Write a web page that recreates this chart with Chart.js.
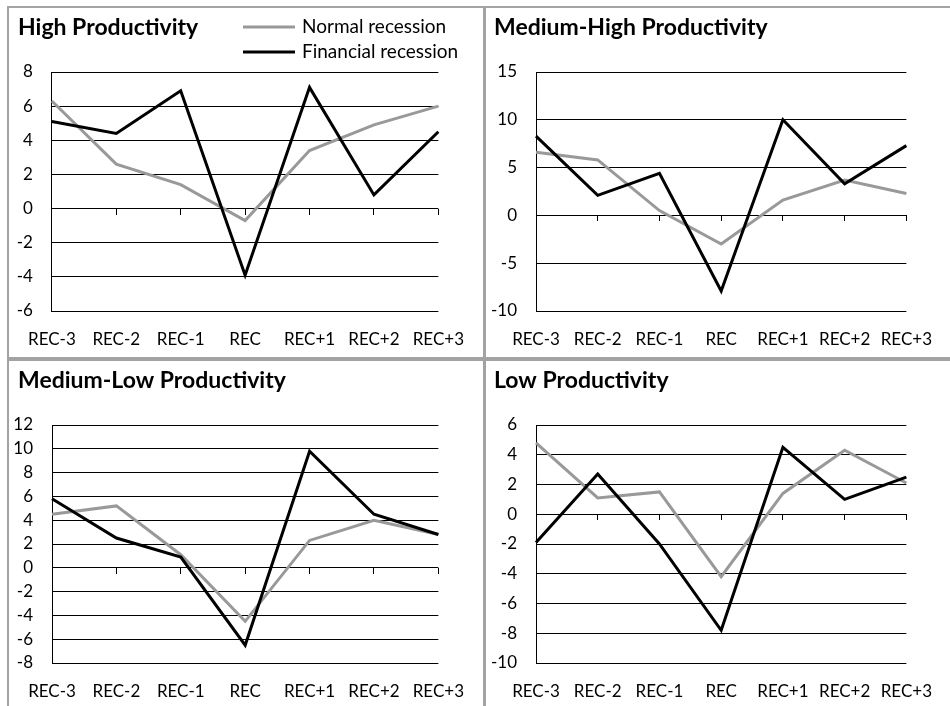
<!DOCTYPE html>
<html>
<head>
<meta charset="utf-8">
<script src="https://cdn.jsdelivr.net/npm/chart.js@4.4.1/dist/chart.umd.min.js"></script>
<style>
body { margin: 0; background: #fff; width: 950px; height: 706px; overflow: hidden; position: relative; }
.rule { position: absolute; background: #a3a3a3; }
.box { position: absolute; }
</style>
</head>
<body>
<div class="rule" style="left:7px;top:6px;width:943px;height:2px"></div>
<div class="rule" style="left:7px;top:6px;width:2px;height:700px"></div>
<div class="rule" style="left:483px;top:6px;width:3px;height:700px"></div>
<div class="rule" style="left:7px;top:357px;width:943px;height:4px"></div>

<div class="box" style="left:10px;top:9px"><canvas id="chartHigh" width="472" height="347"></canvas></div>
<div class="box" style="left:486px;top:9px"><canvas id="chartMedHigh" width="464" height="347"></canvas></div>
<div class="box" style="left:10px;top:362px"><canvas id="chartMedLow" width="472" height="344"></canvas></div>
<div class="box" style="left:486px;top:362px"><canvas id="chartLow" width="464" height="344"></canvas></div>

<script>
const categories = ['REC-3', 'REC-2', 'REC-1', 'REC', 'REC+1', 'REC+2', 'REC+3'];
const seriesNames = ['Normal recession', 'Financial recession'];

// values
const highNormal = [6.3, 2.6, 1.4, -0.7, 3.4, 4.9, 6.0];
const highFinancial = [5.1, 4.4, 6.9, -3.9, 7.1, 0.8, 4.5];
const medHighNormal = [6.6, 5.8, 0.5, -3.0, 1.6, 3.7, 2.3];
const medHighFinancial = [8.3, 2.1, 4.4, -7.9, 10.0, 3.3, 7.3];
const medLowNormal = [4.5, 5.2, 1.1, -4.5, 2.3, 4.0, 2.8];
const medLowFinancial = [5.8, 2.5, 0.9, -6.5, 9.8, 4.5, 2.8];
const lowNormal = [4.8, 1.1, 1.5, -4.2, 1.4, 4.3, 2.1];
const lowFinancial = [-1.9, 2.7, -2.0, -7.8, 4.5, 1.0, 2.5];

// y tick labels of each panel
const highTicks = [-6, -4, -2, 0, 2, 4, 6, 8];
const medHighTicks = [-10, -5, 0, 5, 10, 15];
const medLowTicks = [-8, -6, -4, -2, 0, 2, 4, 6, 8, 10, 12];
const lowTicks = [-10, -8, -6, -4, -2, 0, 2, 4, 6];

const normalColor = '#999999';
const financialColor = '#000000';
const fontFamily = 'Lato, "Open Sans", sans-serif';

// legend in the top-left panel, next to the title
const cornerLegend = {
    id: 'cornerLegend',
    afterDraw(chart) {
        const ctx = chart.ctx;
        ctx.save();
        ctx.font = '19px ' + fontFamily;
        ctx.textBaseline = 'middle';
        ctx.fillStyle = '#000';
        chart.data.datasets.forEach((ds, i) => {
            const y = 18 + i * 25;
            ctx.strokeStyle = ds.borderColor;
            ctx.lineWidth = 3;
            ctx.beginPath();
            ctx.moveTo(233, y);
            ctx.lineTo(285, y);
            ctx.stroke();
            ctx.fillText(ds.label, 292, y);
        });
        ctx.restore();
    }
};

// let the y labels use the left padding too (they get clipped to the scale box otherwise)
const labelRoom = {
    id: 'labelRoom',
    afterLayout(chart) {
        chart.scales.y.left = 0;
    }
};

function makeChart(id, title, normal, financial, ticks, layout, plugins) {
    const ctx = document.getElementById(id).getContext('2d');
    return new Chart(ctx, {
        type: 'line',
        data: {
            labels: categories,
            datasets: [{
                label: seriesNames[0],
                data: normal,
                borderColor: normalColor,
                backgroundColor: normalColor,
                borderWidth: 3,
                pointRadius: 0,
                tension: 0,
                order: 1
            }, {
                label: seriesNames[1],
                data: financial,
                borderColor: financialColor,
                backgroundColor: financialColor,
                borderWidth: 3,
                pointRadius: 0,
                tension: 0,
                order: 0
            }]
        },
        options: {
            responsive: false,
            animation: false,
            layout: {
                padding: { left: 8, top: 0, right: layout.right, bottom: 0 }
            },
            plugins: {
                legend: { display: false },
                tooltip: { enabled: false },
                title: {
                    display: true,
                    text: title,
                    align: 'start',
                    color: '#000',
                    font: { family: fontFamily, size: 23, weight: 'bold', lineHeight: 1.2 },
                    padding: { top: 5, bottom: 30.4 }
                }
            },
            scales: {
                x: {
                    grid: { display: false, drawTicks: false },
                    border: { display: false },
                    ticks: {
                        color: '#000',
                        padding: 18,
                        maxRotation: 0,
                        autoSkip: false,
                        font: { family: fontFamily, size: 17 }
                    },
                    afterFit: scale => { scale.height = layout.xHeight; }
                },
                // tick marks on the zero line
                xZero: {
                    type: 'category',
                    axis: 'x',
                    labels: categories,
                    position: { y: 0 },
                    ticks: { display: false },
                    grid: { drawOnChartArea: false, drawTicks: true, tickLength: 6, color: '#000', lineWidth: 1 },
                    border: { display: false }
                },
                y: {
                    min: ticks[0],
                    max: ticks[ticks.length - 1],
                    grid: { color: '#000', lineWidth: 1, drawTicks: false },
                    border: { display: true, color: '#000', width: 1 },
                    ticks: {
                        stepSize: ticks[1] - ticks[0],
                        color: '#000',
                        padding: 19,
                        font: { family: fontFamily, size: 17 }
                    },
                    afterFit: scale => { scale.width = layout.yWidth; }
                }
            }
        },
        plugins: [labelRoom].concat(plugins || [])
    });
}

makeChart('chartHigh', 'High Productivity', highNormal, highFinancial, highTicks,
    { right: 42, yWidth: 31, xHeight: 45 }, [cornerLegend]);
makeChart('chartMedHigh', 'Medium-High Productivity', medHighNormal, medHighFinancial, medHighTicks,
    { right: 33, yWidth: 42, xHeight: 45 });
makeChart('chartMedLow', 'Medium-Low Productivity', medLowNormal, medLowFinancial, medLowTicks,
    { right: 42, yWidth: 34, xHeight: 43 });
makeChart('chartLow', 'Low Productivity', lowNormal, lowFinancial, lowTicks,
    { right: 33, yWidth: 42, xHeight: 43 });
</script>
</body>
</html>
